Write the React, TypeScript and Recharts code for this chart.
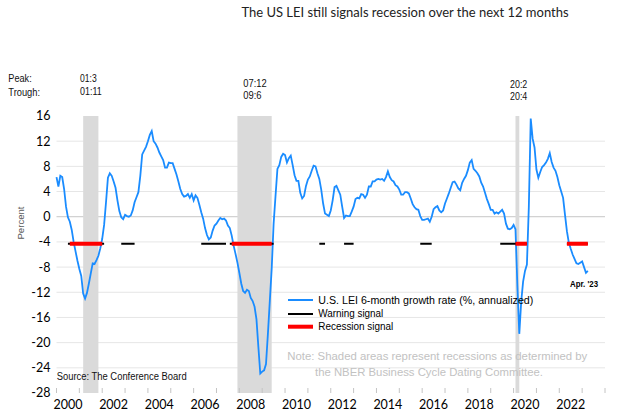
import React from 'react';
import { LineChart, Line, XAxis, YAxis, CartesianGrid, ReferenceArea } from 'recharts';

const START_YEAR = 2000;

// U.S. LEI 6-month growth rate (%, annualized), monthly, Jan 2000 - Apr 2023
const leiGrowth = [
  /* 2000 */ 6.3, 4.8, 6.5, 6.3, 4.4, 1.6, -0.1, -0.8, -2.1, -4.0, -5.5, -7.0,
  /* 2001 */ -8.3, -9.4, -12.2, -13.0, -12.1, -10.6, -9.0, -7.4, -7.5, -6.9, -6.2, -5.0,
  /* 2002 */ -3.5, -1.3, 2.3, 6.2, 6.9, 6.5, 5.6, 4.6, 2.6, 0.9, -0.1, -0.4,
  /* 2003 */ 0.3, 0.1, 0.0, 0.2, 1.0, 2.3, 3.1, 3.9, 6.5, 9.9, 10.5, 11.1,
  /* 2004 */ 12.0, 13.0, 13.6, 12.0, 11.6, 11.0, 10.2, 9.6, 9.0, 7.8, 7.8, 8.6,
  /* 2005 */ 8.5, 8.5, 7.6, 6.7, 5.6, 4.4, 3.6, 3.2, 3.3, 3.6, 3.0, 3.6,
  /* 2006 */ 2.6, 3.4, 3.0, 1.9, 0.7, -0.3, -1.8, -2.9, -3.6, -3.3, -2.2, -1.4,
  /* 2007 */ -1.1, -0.6, -0.2, -0.4, -0.3, -0.6, -1.4, -1.8, -3.0, -4.6, -5.9, -7.3,
  /* 2008 */ -8.9, -10.6, -11.8, -12.1, -11.6, -11.8, -12.9, -13.4, -14.3, -16.3, -20.7, -24.9,
  /* 2009 */ -24.6, -24.4, -23.4, -18.6, -13.4, -8.2, -1.1, 3.3, 7.6, 8.2, 9.5, 10.0,
  /* 2010 */ 9.8, 8.6, 9.3, 9.7, 8.2, 6.6, 5.7, 5.7, 3.8, 2.9, 3.3, 4.9,
  /* 2011 */ 5.9, 6.4, 7.3, 8.1, 8.0, 6.9, 6.0, 4.3, 2.1, 0.5, 0.3, 0.1,
  /* 2012 */ 1.0, 2.6, 4.7, 4.9, 4.2, 3.5, 1.6, -0.2, 0.2, 0.1, 0.1, 0.8,
  /* 2013 */ 1.6, 2.8, 3.0, 2.9, 3.6, 3.5, 3.0, 3.5, 4.8, 4.8, 5.6, 5.6,
  /* 2014 */ 5.9, 6.0, 5.9, 6.0, 5.7, 6.3, 7.2, 6.3, 5.8, 5.6, 5.0, 4.8,
  /* 2015 */ 4.3, 3.5, 3.5, 3.9, 3.9, 3.7, 2.9, 2.0, 1.5, 1.2, 1.1, 0.1,
  /* 2016 */ -0.5, -0.5, -0.4, -0.3, -0.8, 0.0, 1.2, 1.5, 1.7, 1.0, 0.7, 1.0,
  /* 2017 */ 2.1, 2.9, 3.7, 4.6, 5.5, 5.6, 5.1, 4.5, 4.2, 5.4, 6.0, 6.5,
  /* 2018 */ 7.4, 8.6, 9.0, 7.6, 7.3, 6.9, 6.4, 5.4, 4.8, 3.8, 2.8, 2.0,
  /* 2019 */ 1.1, 1.1, 0.5, 0.7, 0.5, 0.8, 1.1, 0.5, -1.1, -1.9, -2.0, -1.8,
  /* 2020 */ -1.3, -2.0, -11.0, -18.6, -13.5, -10.3, -8.6, -7.6, 1.5, 15.6, 12.4, 11.0,
  /* 2021 */ 7.5, 6.2, 7.1, 7.9, 8.2, 8.6, 9.2, 10.1, 8.7, 7.8, 7.3, 6.3,
  /* 2022 */ 5.0, 4.0, 3.0, 0.3, -2.3, -4.1, -5.1, -6.0, -6.7, -7.4, -7.5, -7.3,
  /* 2023 */ -7.1, -8.0, -8.9, -8.6,
];

const warningPeriods: [string, string][] = [
  ['2000-07', '2002-02'],
  ['2002-11', '2003-06'],
  ['2006-05', '2007-06'],
  ['2007-08', '2009-07'],
  ['2011-07', '2011-10'],
  ['2012-08', '2013-01'],
  ['2015-12', '2016-06'],
  ['2019-06', '2020-08'],
  ['2022-05', '2023-04'],
];

const recessionSignalPeriods: [string, string][] = [
  ['2000-08', '2002-01'],
  ['2007-09', '2009-06'],
  ['2020-02', '2020-08'],
  ['2022-05', '2023-04'],
];

// NBER recessions (peak, trough)
const nberRecessions: [string, string][] = [
  ['2001-03', '2001-11'],
  ['2007-12', '2009-06'],
  ['2020-02', '2020-04'],
];

const SIGNAL_LEVEL = -4.3;
const yTicks = [16, 12, 8, 4, 0, -4, -8, -12, -16, -20, -24, -28];
const gridValues = [12, 8, 4, -4, -8, -12, -16, -20, -24];
const yearMarks = Array.from({ length: 25 }, (_, i) => START_YEAR + i);
const labelYears = [2000, 2002, 2004, 2006, 2008, 2010, 2012, 2014, 2016, 2018, 2020, 2022];

const toT = (s: string) => {
  const [y, m] = s.split('-').map(Number);
  return y + (m - 1) / 12;
};
const inPeriods = (t: number, periods: [string, string][]) =>
  periods.some(([a, b]) => t >= toT(a) - 1e-6 && t <= toT(b) + 1e-6);

const data = leiGrowth.map((v, i) => {
  const t = START_YEAR + i / 12;
  return {
    t,
    lei: v,
    warn: inPeriods(t, warningPeriods) ? SIGNAL_LEVEL : null,
    rec: inPeriods(t, recessionSignalPeriods) ? SIGNAL_LEVEL : null,
  };
});

const xTicks = [...yearMarks, ...labelYears.map((y) => y + 0.5)].sort((a, b) => a - b);

const AXIS_FONT = 'Lato, "Open Sans", sans-serif';
const ARIAL = '"Liberation Sans", Arial, sans-serif';

const YearTick = (props: any) => {
  const { x, y, payload } = props;
  const v = payload.value as number;
  if (Number.isInteger(v)) {
    return <line x1={x} x2={x} y1={y - 5} y2={y} stroke="#c4c4c4" strokeWidth={1} />;
  }
  return (
    <text x={x} y={y + 15.5} textAnchor="middle" fontFamily={AXIS_FONT} fontSize={12.5} fill="#000">
      {Math.floor(v)}
    </text>
  );
};

const App: React.FC = () => {
  return (
    <div style={{ position: 'relative', width: 640, height: 413, background: '#fff' }}>
      <style>{'body{margin:0}'}</style>
      <LineChart width={640} height={413} data={data} margin={{ top: 116, right: 35, bottom: 0, left: 0 }}>
        <CartesianGrid vertical={false} horizontalValues={gridValues} stroke="#e6e6e6" />
        <CartesianGrid vertical={false} horizontalValues={[0]} stroke="#c6c6c6" />
        <XAxis
          dataKey="t"
          type="number"
          domain={[2000, 2024]}
          ticks={xTicks}
          interval={0}
          height={20}
          axisLine={false}
          tickLine={false}
          tickSize={0}
          tickMargin={0}
          tick={<YearTick />}
        />
        <YAxis
          type="number"
          domain={[-28, 16]}
          ticks={yTicks}
          interval={0}
          width={56.5}
          axisLine={false}
          tickLine={false}
          tickSize={4}
          tickMargin={2}
          tick={{ fontSize: 12.5, fill: '#000', fontFamily: AXIS_FONT }}
        />
        {nberRecessions.map(([a, b]) => (
          <ReferenceArea key={a} x1={toT(a)} x2={toT(b)} fill="#dadada" fillOpacity={1} stroke="none" />
        ))}
        <Line dataKey="lei" type="linear" stroke="#1a8cff" strokeWidth={1.8} dot={false} activeDot={false} isAnimationActive={false} />
        <Line dataKey="warn" type="linear" stroke="#000" strokeWidth={2} dot={false} activeDot={false} connectNulls={false} isAnimationActive={false} />
        <Line dataKey="rec" type="linear" stroke="#ff0000" strokeWidth={4} dot={false} activeDot={false} connectNulls={false} isAnimationActive={false} />
      </LineChart>
      <svg width={640} height={413} style={{ position: 'absolute', left: 0, top: 0, pointerEvents: 'none' }}>
        <text x={405} y={12} textAnchor="middle" dominantBaseline="central" fontFamily={AXIS_FONT} fontSize={13} fill="#222">
          The US LEI still signals recession over the next 12 months
        </text>
        <g fontFamily={ARIAL} fontSize={10.5} fill="#111" dominantBaseline="central">
          <text x={8.3} y={78} textLength={23.4} lengthAdjust="spacingAndGlyphs">Peak:</text>
          <text x={8.3} y={92} textLength={31.7} lengthAdjust="spacingAndGlyphs">Trough:</text>
          <text x={80} y={78} textLength={16.7} lengthAdjust="spacingAndGlyphs">01:3</text>
          <text x={80} y={91} textLength={21.7} lengthAdjust="spacingAndGlyphs">01:11</text>
          <text x={243.3} y={82.5} textLength={23.4} lengthAdjust="spacingAndGlyphs">07:12</text>
          <text x={243.3} y={94.5} textLength={18.3} lengthAdjust="spacingAndGlyphs">09:6</text>
          <text x={510} y={83.8} textLength={17.3} lengthAdjust="spacingAndGlyphs">20:2</text>
          <text x={510} y={95.8} textLength={17.3} lengthAdjust="spacingAndGlyphs">20:4</text>
        </g>
        <text
          x={20}
          y={223}
          transform="rotate(-90 20 223)"
          textAnchor="middle"
          dominantBaseline="central"
          fontFamily={ARIAL}
          fontSize={9.6}
          fill="#595959"
        >
          Percent
        </text>
        <g fontFamily={ARIAL} fontSize={10} fill="#000" dominantBaseline="central">
          <line x1={288} x2={313} y1={300} y2={300} stroke="#1a8cff" strokeWidth={2} />
          <text x={318.3} y={300.5} textLength={215} lengthAdjust="spacingAndGlyphs">U.S. LEI 6-month growth rate (%, annualized)</text>
          <line x1={288} x2={313} y1={314} y2={314} stroke="#000" strokeWidth={2} />
          <text x={318.3} y={313.7} textLength={65} lengthAdjust="spacingAndGlyphs">Warning signal</text>
          <line x1={288} x2={313} y1={326.7} y2={326.7} stroke="#ff0000" strokeWidth={4} />
          <text x={318.3} y={326.7} textLength={75} lengthAdjust="spacingAndGlyphs">Recession signal</text>
        </g>
        <text x={570} y={284} dominantBaseline="central" fontFamily={ARIAL} fontSize={8.5} fontWeight="bold" fill="#000" textLength={28} lengthAdjust="spacingAndGlyphs">
          Apr. '23
        </text>
        <g fontFamily={ARIAL} fontSize={11} fill="#c2c2c2" dominantBaseline="central">
          <text x={287.3} y={355.7} textLength={300} lengthAdjust="spacingAndGlyphs">Note: Shaded areas represent recessions as determined by</text>
          <text x={315} y={371.7} textLength={228} lengthAdjust="spacingAndGlyphs">the NBER Business Cycle Dating Committee.</text>
        </g>
        <text x={56.7} y={376.7} dominantBaseline="central" fontFamily={ARIAL} fontSize={10} fill="#111" textLength={130} lengthAdjust="spacingAndGlyphs">
          Source: The Conference Board
        </text>
      </svg>
    </div>
  );
};

export default App;
